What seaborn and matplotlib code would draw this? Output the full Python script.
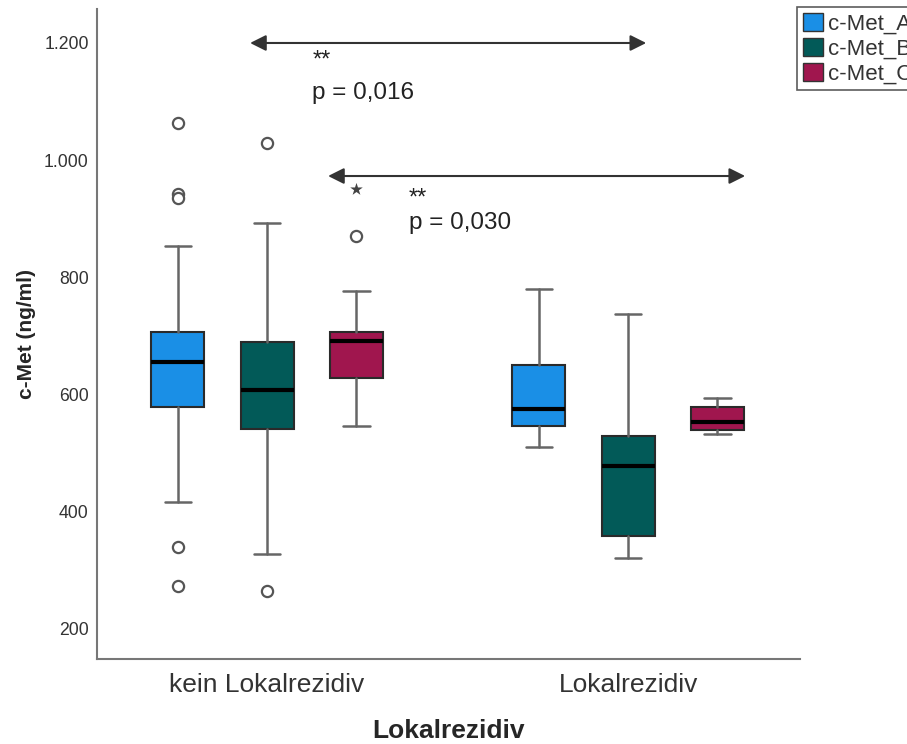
import numpy as np
import pandas as pd
import matplotlib
matplotlib.use("Agg")
import matplotlib.pyplot as plt
from matplotlib.patches import Patch
import seaborn as sns

# Gruppen und Marker
groups = ["kein Lokalrezidiv", "Lokalrezidiv"]
markers = ["c-Met_A", "c-Met_B", "c-Met_C"]
colors = ["#1a8fe6", "#025a58", "#a0164e"]

# Boxplot-Kennwerte, je Gruppe: A, B, C
whislo = [[416, 328, 546], [510, 321, 532]]
q1 = [[578, 541, 629], [546, 358, 539]]
med = [[655, 607, 691], [575, 478, 554]]
q3 = [[706, 689, 706], [651, 529, 578]]
whishi = [[854, 892, 776], [781, 737, 594]]

# Ausreißer (Kreise) und Extremwerte (Stern)
out_group = [0, 0, 0, 0, 0, 0, 0, 0, 0]
out_marker = [0, 0, 0, 0, 0, 1, 1, 2, 2]
out_value = [1064, 942, 936, 340, 273, 1030, 265, 870, 951]
out_kind = ["o", "o", "o", "o", "o", "o", "o", "o", "*"]

# Signifikanz-Annotationen
sig_x = [(-0.047, 1.050), (0.169, 1.324)]
sig_y = [1200, 973]
sig_star_y = [1159, 925]
sig_star_x = [0.125, 0.393]
sig_p = ["p = 0,016", "p = 0,030"]
sig_p_y = [1104, 883]

yticks = [200, 400, 600, 800, 1000, 1200]
ytick_labels = ["200", "400", "600", "800", "1.000", "1.200"]

sns.set_style("white")
plt.rcParams["font.family"] = ["Liberation Sans", "DejaVu Sans"]

dodge = 0.247
box_w = 0.147
palette = sns.color_palette(colors)

fig = plt.figure(figsize=(9.07, 7.44), dpi=100)
ax = fig.add_axes([97 / 907, 1 - 659 / 744, 703 / 907, 650 / 744])

stats, pos, face = [], [], []
for gi in range(len(groups)):
    for mi in range(len(markers)):
        stats.append(dict(whislo=whislo[gi][mi], q1=q1[gi][mi], med=med[gi][mi],
                          q3=q3[gi][mi], whishi=whishi[gi][mi], fliers=[]))
        pos.append(gi + (mi - 1) * dodge)
        face.append(palette[mi])

bp = ax.bxp(stats, positions=pos, widths=box_w, patch_artist=True,
            showfliers=False,
            boxprops=dict(edgecolor="#2a2a2a", linewidth=1.5),
            medianprops=dict(color="black", linewidth=3),
            whiskerprops=dict(color="#666666", linewidth=1.8),
            capprops=dict(color="#666666", linewidth=1.8))
for patch, c in zip(bp["boxes"], face):
    patch.set_facecolor(c)

fl = pd.DataFrame({"x": [g + (m - 1) * dodge for g, m in zip(out_group, out_marker)],
                   "value": out_value, "kind": out_kind})
circ = fl[fl["kind"] == "o"]
star = fl[fl["kind"] == "*"]
sns.scatterplot(data=circ, x="x", y="value", ax=ax, marker="o", s=65,
                facecolor="white", edgecolor="#555555", linewidth=1.6, zorder=3)
sns.scatterplot(data=star, x="x", y="value", ax=ax, marker="*", s=90,
                color="#444444", linewidth=0, zorder=3)

for (x0, x1), y, sx, sy, p, py in zip(sig_x, sig_y, sig_star_x, sig_star_y, sig_p, sig_p_y):
    ax.annotate("", xy=(x1, y), xytext=(x0, y),
                arrowprops=dict(arrowstyle="<|-|>,head_length=0.4,head_width=0.2",
                                color="#333333", lw=1.5, mutation_scale=24,
                                shrinkA=0, shrinkB=0))
    ax.text(sx, sy, "**", fontsize=17, color="#222222", va="baseline", ha="left")
    ax.text(sx, py, p, fontsize=17.5, color="#222222", va="baseline", ha="left")

ax.set_xlim(-0.471, 1.476)
ax.set_ylim(148.8, 1258)
ax.set_xticks(range(len(groups)))
ax.set_xticklabels(groups, fontsize=19, color="#333333")
ax.set_yticks(yticks)
ax.set_yticklabels(ytick_labels, fontsize=12.7, color="#333333")
ax.tick_params(axis="both", length=0)
ax.tick_params(axis="x", pad=10)
ax.tick_params(axis="y", pad=6)
ax.set_xlabel("Lokalrezidiv", fontsize=19, fontweight="bold", labelpad=16)
ax.set_ylabel("c-Met (ng/ml)", fontsize=15, fontweight="bold", labelpad=6)

sns.despine(ax=ax)
for s in ["left", "bottom"]:
    ax.spines[s].set_color("#777777")
    ax.spines[s].set_linewidth(1.5)

# Legende rechts oben, wie im Original teilweise angeschnitten
handles = [Patch(facecolor=c, edgecolor="#333333", linewidth=1) for c in palette]
leg = fig.legend(handles, markers, loc="upper left",
                 bbox_to_anchor=(797 / 907, 1 - 7 / 744), fontsize=16,
                 frameon=True, fancybox=False, handlelength=0.9, handleheight=0.9,
                 handletextpad=0.25, labelspacing=0.15, borderpad=0.25,
                 borderaxespad=0)
leg.get_frame().set_edgecolor("#333333")
leg.get_frame().set_linewidth(1.2)
for t in leg.get_texts():
    t.set_color("#333333")

fig.savefig("out.png", dpi=100)
